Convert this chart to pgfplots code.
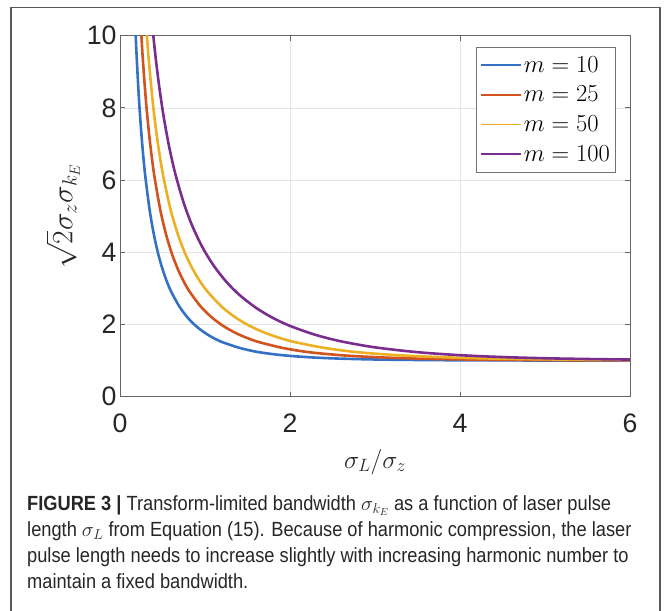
\RequirePackage{fix-cm}
\documentclass[border=0pt]{standalone}
\usepackage{fontspec}
\usepackage{pgfplots}
\pgfplotsset{compat=1.18}
\newfontfamily\arialf{Liberation Sans}
\newfontfamily\capf[FakeStretch=0.89]{Liberation Sans}
\definecolor{mblue}{HTML}{3471C5}
\definecolor{mred}{HTML}{D2531E}
\definecolor{myellow}{HTML}{EBB024}
\definecolor{mpurple}{HTML}{7A2D8E}
\pgfplotstableread{
x y
0.17 10.91
0.185 10.003
0.2 9.233
0.225 8.173
0.25 7.328
0.275 6.633
0.3 6.058
0.35 5.152
0.4 4.475
0.45 3.952
0.5 3.537
0.55 3.199
0.6 2.921
0.7 2.492
0.8 2.18
0.9 1.946
1.0 1.766
1.1 1.626
1.2 1.515
1.4 1.356
1.6 1.247
1.8 1.179
2.0 1.130
2.3 1.083
2.6 1.054
3.0 1.031
3.5 1.017
4.0 1.009
5.0 1.003
6.0 1.001
}\mten
\pgfplotstableread{
x y
0.2312 10.91
0.2516 10.003
0.272 9.233
0.306 8.173
0.34 7.328
0.374 6.633
0.408 6.058
0.476 5.152
0.544 4.475
0.612 3.952
0.68 3.537
0.748 3.199
0.816 2.921
0.952 2.492
1.088 2.18
1.224 1.946
1.36 1.766
1.496 1.626
1.632 1.515
1.904 1.356
2.176 1.247
2.448 1.179
2.72 1.130
3.128 1.083
3.536 1.054
4.08 1.031
4.76 1.017
5.44 1.009
6.0 1.006
}\mtwentyfive
\pgfplotstableread{
x y
0.2907 10.91
0.3164 10.003
0.342 9.233
0.3848 8.173
0.4275 7.328
0.4703 6.633
0.513 6.058
0.5985 5.152
0.684 4.475
0.7695 3.952
0.855 3.537
0.9405 3.199
1.026 2.921
1.197 2.492
1.368 2.18
1.539 1.946
1.71 1.766
1.881 1.626
2.052 1.515
2.394 1.356
2.736 1.247
3.078 1.179
3.42 1.130
3.933 1.083
4.446 1.054
5.13 1.031
6.0 1.017
}\mfifty
\pgfplotstableread{
x y
0.37 10.56
0.3985 9.854
0.43 9.179
0.47 8.441
0.52 7.668
0.58 6.905
0.65 6.18
0.75 5.367
0.85 4.734
0.97 4.14
1.1 3.638
1.25 3.186
1.4 2.83
1.6 2.462
1.8 2.181
2.0 1.961
2.3 1.713
2.6 1.534
3.0 1.367
3.5 1.233
4.0 1.150
4.5 1.098
5.0 1.065
5.5 1.044
6.0 1.029
}\mhundred
\begin{document}
\begin{tikzpicture}
\useasboundingbox (-120pt,-213.3pt) rectangle (548pt,396.7pt);
\draw[black!65, line width=1.2pt] (-109pt,-220pt) -- (-109pt,389.5pt) -- (540pt,389.5pt) -- (540pt,-220pt);
\begin{axis}[
  at={(0pt,0pt)}, anchor=south west, scale only axis,
  width=510pt, height=361pt,
  xmin=0, xmax=6, ymin=0, ymax=10,
  xtick={0,2,4,6}, ytick={0,2,4,6,8,10},
  grid=major, grid style={color=black!10, line width=0.7pt},
  axis line style={color=black!60, line width=0.9pt},
  tick style={color=black!60, line width=0.9pt},
  tick align=inside, major tick length=5pt,
  ticklabel style={font=\arialf\fontsize{26.7}{28}\selectfont, color=black!85},
  /pgf/number format/assume math mode=true,
  xticklabel style={anchor=base, yshift=-36pt},
  xlabel={$\sigma_L/\sigma_z$},
  ylabel={$\sqrt{2}\sigma_z\sigma_{k_E}$},
  xlabel style={font=\fontsize{25.5}{27}\selectfont, color=black!85, at={(axis description cs:0.5,-0.18)}, anchor=center},
  ylabel style={font=\fontsize{29.5}{31}\selectfont, color=black!85, at={(axis description cs:-0.112,0.5)}, anchor=center},
  legend style={at={(rel axis cs:0.973,0.969)}, anchor=north east,
    draw=black!55, line width=0.8pt, fill=white,
    font=\fontsize{24.5}{26}\selectfont, row sep=8.5pt,
    inner xsep=4pt, inner ysep=7pt},
  legend cell align=left,
  legend image code/.code={\draw[#1, line width=1.8pt] (0pt,0pt) -- (40pt,0pt);},
  every axis plot/.append style={line width=2.6pt},
]
\addplot[mblue, smooth] table[x=x,y=y] {\mten};
\addplot[mred, smooth] table[x=x,y=y] {\mtwentyfive};
\addplot[myellow, smooth] table[x=x,y=y] {\mfifty};
\addplot[mpurple, smooth] table[x=x,y=y] {\mhundred};
\legend{$m=10$,$m=25$,$m=50$,$m=100$}
\end{axis}
\begin{scope}[every node/.style={anchor=base west, inner sep=0pt, font=\capf\fontsize{20.5}{21}\selectfont, color=black!85}]
\node at (-93pt,-113.3pt) {\textbf{FIGURE 3 |} Transform-limited bandwidth $\sigma_{k_E}$ as a function of laser pulse};
\node at (-93pt,-139.3pt) {length $\sigma_L$ from Equation (15). Because of harmonic compression, the laser};
\node at (-93pt,-165.3pt) {pulse length needs to increase slightly with increasing harmonic number to};
\node at (-93pt,-191.3pt) {maintain a fixed bandwidth.};
\end{scope}
\end{tikzpicture}
\end{document}
